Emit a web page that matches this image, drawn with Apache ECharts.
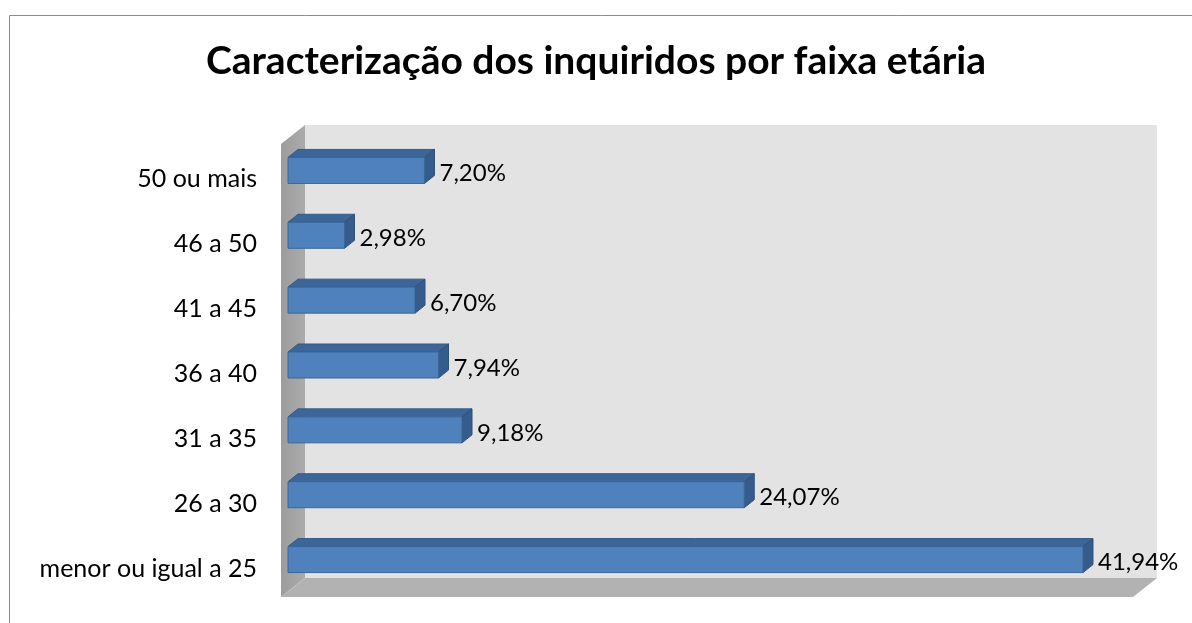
<!DOCTYPE html>
<html>
<head>
<meta charset="utf-8">
<script src="https://cdn.jsdelivr.net/npm/echarts@6/dist/echarts.min.js"></script>
<style>
  html, body { margin: 0; padding: 0; background: #fff; }
  #chartarea { width: 1192px; height: 623px; }
</style>
</head>
<body>
<div id="chartarea"></div>
<script>
var categories = ['menor ou igual a 25', '26 a 30', '31 a 35', '36 a 40', '41 a 45', '46 a 50', '50 ou mais'];
var percentages = [41.94, 24.07, 9.18, 7.94, 6.70, 2.98, 7.20];
var chartTitle = 'Caracterização dos inquiridos por faixa etária';

function PctFormat(v) {
  return v.toFixed(2).replace('.', ',') + '%';
}

var barData = [];
for (var i = 0; i < percentages.length; i++) {
  barData.push([percentages[i], i]);
}

// walls of the 3d box, drawn from the grid rect
function renderWalls(params, api) {
  var cs = params.coordSys;
  var fl = cs.x - 7, fb = cs.y + cs.height + 5, fr = cs.x + cs.width - 8;
  var bl = cs.x + 17, br = cs.x + cs.width + 16, bt = cs.y - 13, bb = cs.y + cs.height - 14;
  var dx = bl - fl, dy = fb - bb;
  return {
    type: 'group',
    children: [
      { type: 'rect', shape: { x: bl, y: bt, width: br - bl, height: bb - bt }, style: { fill: '#e3e3e3' } },
      { type: 'polygon', shape: { points: [[fl, bt + dy], [bl, bt], [bl, bb], [fl, fb]] },
        style: { fill: new echarts.graphic.LinearGradient(0, 0, 1, 0, [{ offset: 0, color: '#9c9c9c' }, { offset: 1, color: '#ababab' }]) } },
      { type: 'polygon', shape: { points: [[fl, fb], [bl, bb], [br, bb], [fr, fb]] }, style: { fill: '#b2b2b2' } }
    ]
  };
}

function renderBar(params, api) {
  var v = api.value(0);
  var start = api.coord([0, api.value(1)]);
  var end = api.coord([v, api.value(1)]);
  var h = 26, dx = 10, dy = 8;
  var x0 = start[0], x1 = end[0], yt = end[1] - h / 2, yb = end[1] + h / 2;
  return {
    type: 'group',
    children: [
      { type: 'polygon', shape: { points: [[x0, yt], [x0 + dx, yt - dy], [x1 + dx, yt - dy], [x1, yt]] },
        style: { fill: '#3c659a', stroke: '#355a88', lineWidth: 1 } },
      { type: 'polygon', shape: { points: [[x1, yt], [x1 + dx, yt - dy], [x1 + dx, yb - dy], [x1, yb]] },
        style: { fill: '#365c8c', stroke: '#2f5079', lineWidth: 1 } },
      { type: 'rect', shape: { x: x0, y: yt, width: x1 - x0, height: h },
        style: { fill: '#4f81bd', stroke: '#3a6797', lineWidth: 1 } },
      { type: 'text', x: x1 + 15, y: end[1] + 3,
        style: { text: PctFormat(v), fill: '#000', font: '24px Lato', verticalAlign: 'middle', align: 'left' } }
    ]
  };
}

var chart = echarts.init(document.getElementById('chartarea'));
var option = {
  animation: false,
  title: {
    text: chartTitle,
    left: 'center',
    top: 37,
    textStyle: { fontFamily: 'Lato', fontWeight: 'bold', fontSize: 39, color: '#000' }
  },
  graphic: [{
    type: 'rect', shape: { x: 9.5, y: 15.5, width: 1300, height: 700 },
    style: { fill: null, stroke: '#8c8c8c', lineWidth: 1 }, z: 100
  }],
  grid: { left: 288, right: 51, top: 138, bottom: 31 },
  xAxis: {
    type: 'value', min: 0, max: 45,
    show: false
  },
  yAxis: {
    type: 'category',
    data: categories,
    axisLine: { show: false },
    axisTick: { show: false },
    splitLine: { show: false },
    axisLabel: { margin: 31, color: '#000', fontFamily: 'Lato', fontSize: 25, verticalAlign: 'top', lineHeight: 18 }
  },
  series: [
    { type: 'custom', renderItem: renderWalls, data: [[0, 0]], z: 1, silent: true },
    { type: 'custom', renderItem: renderBar, data: barData, z: 2 }
  ]
};
chart.setOption(option);
</script>
</body>
</html>
